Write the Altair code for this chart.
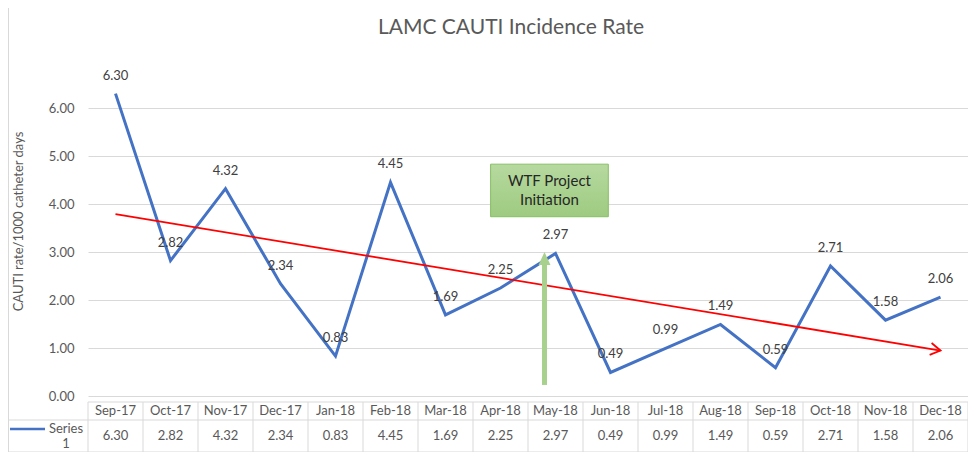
import math
import altair as alt
import numpy as np
import pandas as pd

# ---------------- data ----------------
months = ["Sep-17", "Oct-17", "Nov-17", "Dec-17", "Jan-18", "Feb-18", "Mar-18", "Apr-18",
          "May-18", "Jun-18", "Jul-18", "Aug-18", "Sep-18", "Oct-18", "Nov-18", "Dec-18"]
rates = [6.30, 2.82, 4.32, 2.34, 0.83, 4.45, 1.69, 2.25,
         2.97, 0.49, 0.99, 1.49, 0.59, 2.71, 1.58, 2.06]
y_ticks = [0, 1, 2, 3, 4, 5, 6]
title_text = "LAMC CAUTI Incidence Rate"
y_title = "CAUTI rate/1000 catheter days"
series_name = ["Series", "1"]
note_lines = ["WTF Project", "Initiation"]

# annotation anchors (data space)
ARROW_X, ARROW_Y0, ARROW_TIP = 7.8, 0.23, 3.0
BOX_X1, BOX_X2, BOX_Y1, BOX_Y2 = 6.82, 8.96, 3.735, 4.83

df = pd.DataFrame({"idx": list(range(len(months))), "month": months, "rate": rates})
df["label"] = [f"{v:.2f}" for v in rates]
bounds = pd.DataFrame({"b": [i - 0.5 for i in range(len(months) + 1)]})
one = pd.DataFrame({"_": [0]})

W, H = 880, 336
YMAX = 7
FONT = "Lato"
GRAY = "#595959"
DARK = "#404040"
BLUE = "#4472c4"
RED = "#ff0000"
GREEN = "#a9d18e"
LINEC = "#d9d9d9"

xscale = alt.Scale(domain=[-0.5, len(months) - 0.5], nice=False, zero=False)
yscale = alt.Scale(domain=[0, YMAX], nice=False)
YAX = alt.Axis(values=y_ticks, format=".2f", title=y_title, grid=True,
               gridColor=LINEC, domain=False, ticks=False, labelPadding=14,
               labelFont=FONT, labelFontSize=13, labelColor=GRAY,
               titleFont=FONT, titleFontSize=13, titleFontWeight="normal",
               titleColor=GRAY, titleX=-70, titleY=161, titleAngle=270,
               titleBaseline="middle")
X = alt.X("idx:Q", scale=xscale, axis=None)
Y = alt.Y("rate:Q", scale=yscale, axis=YAX, title=y_title)


def ydat(v):
    return alt.YDatum(v, scale=yscale, axis=YAX, title=y_title)


def xdat(v):
    return alt.XDatum(v, scale=xscale, axis=None)


# trend angle (pixel space) for the arrowhead
slope = np.polyfit(df["idx"], df["rate"], 1)[0]
ang = math.degrees(math.atan(-slope * (H / YMAX) / (W / len(months))))

line = alt.Chart(df).mark_line(color=BLUE, strokeWidth=3).encode(x=X, y=Y)

trend = alt.Chart(df).transform_regression("idx", "rate").mark_line(
    color=RED, strokeWidth=1.8).encode(x=X, y=Y)

trend_head = alt.Chart(df).transform_regression("idx", "rate").transform_filter(
    "datum.idx > 7").mark_point(shape="M-1,-0.6L0,0L-1,0.6", filled=False, color=RED,
                                strokeWidth=1.8, size=400, angle=ang, opacity=1).encode(x=X, y=Y)

labels = alt.Chart(df).mark_text(dy=-18, baseline="middle", font=FONT, fontSize=13,
                                 color=DARK).encode(x=X, y=Y, text="label:N")

shaft = alt.Chart(one).mark_rule(color=GREEN, strokeWidth=5).encode(
    x=xdat(ARROW_X), y=ydat(ARROW_Y0), y2=alt.Y2Datum(ARROW_TIP - 0.25))
head = alt.Chart(one).mark_point(shape="M0,0L0.46,1L-0.46,1Z", filled=True, color=GREEN,
                                 size=676, opacity=1).encode(
    x=xdat(ARROW_X), y=ydat(ARROW_TIP))

box = alt.Chart(one).mark_rect(
    fill=alt.Gradient(gradient="linear", x1=0, x2=0, y1=0, y2=1,
                      stops=[alt.GradientStop(color="#b7d9a0", offset=0),
                             alt.GradientStop(color="#9dcb80", offset=1)]),
    stroke="#86bf63", strokeWidth=1).encode(
    x=xdat(BOX_X1), x2=alt.X2Datum(BOX_X2),
    y=ydat(BOX_Y2), y2=alt.Y2Datum(BOX_Y1))
box_text = alt.Chart(one).mark_text(font=FONT, fontSize=15, color="#262626", dy=-9.5,
                                    baseline="middle", align="center", lineHeight=19).encode(
    x=xdat((BOX_X1 + BOX_X2) / 2), y=ydat((BOX_Y1 + BOX_Y2) / 2),
    text=alt.value(note_lines))

title = alt.Chart(one).mark_text(font=FONT, fontSize=21, color=GRAY, align="center",
                                 baseline="alphabetic").encode(
    x=alt.value(423), y=alt.value(-26), text=alt.value(title_text))

# ---------------- data table ----------------
T_TOP, T_MID, T_BOT = 342, 360, 392
vlines = alt.Chart(bounds).mark_rule(color=LINEC, strokeWidth=1).encode(
    x=alt.X("b:Q", scale=xscale, axis=None), y=alt.value(T_TOP), y2=alt.value(T_BOT))
h_top = alt.Chart(one).mark_rule(color=LINEC, strokeWidth=1).encode(
    x=alt.value(0), x2=alt.value(W), y=alt.value(T_TOP))
h_mid = alt.Chart(one).mark_rule(color=LINEC, strokeWidth=1).encode(
    x=alt.value(-80), x2=alt.value(W), y=alt.value(T_MID))
h_bot = alt.Chart(one).mark_rule(color=LINEC, strokeWidth=1).encode(
    x=alt.value(-80), x2=alt.value(W), y=alt.value(T_BOT))
v_outer = alt.Chart(one).mark_rule(color=LINEC, strokeWidth=1).encode(
    x=alt.value(-79.5), y=alt.value(-52), y2=alt.value(T_BOT))

hdr = alt.Chart(df).mark_text(font=FONT, fontSize=13, color=GRAY, baseline="middle").encode(
    x=X, y=alt.value((T_TOP + T_MID) / 2), text="month:N")
vals = alt.Chart(df).mark_text(font=FONT, fontSize=13, color=GRAY, baseline="middle").encode(
    x=X, y=alt.value((T_MID + T_BOT) / 2), text="label:N")
leg_line = alt.Chart(one).mark_rule(color=BLUE, strokeWidth=2.5).encode(
    x=alt.value(-78), x2=alt.value(-43), y=alt.value(369))
leg_text = alt.Chart(one).mark_text(font=FONT, fontSize=13, color=GRAY, baseline="middle",
                                    align="center", lineHeight=15, dy=-7.5).encode(
    x=alt.value(-22), y=alt.value((T_MID + T_BOT) / 2), text=alt.value(series_name))

chart = alt.layer(
    vlines, h_top, h_mid, h_bot, v_outer,
    line, trend, trend_head, shaft, head, box, box_text, labels,
    title, hdr, vals, leg_line, leg_text,
).properties(
    width=W, height=H,
    autosize=alt.AutoSizeParams(type="none"),
    padding={"left": 80, "top": 52, "right": 0, "bottom": 56},
    background="white",
).configure_view(stroke=None)

chart.save("out.html", embed_options={"renderer": "svg", "actions": False})
